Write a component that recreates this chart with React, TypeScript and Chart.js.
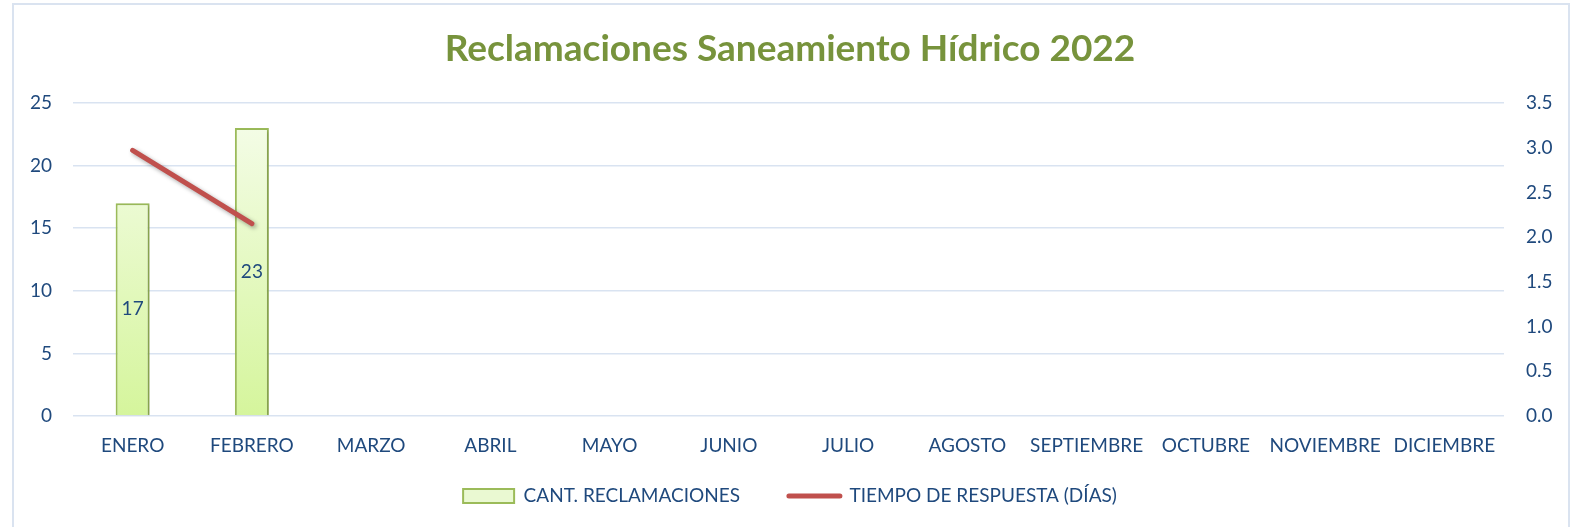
import React, { useEffect, useRef } from 'react';
import { Chart, registerables } from 'chart.js';

Chart.register(...registerables);

const MONTHS = ['ENERO', 'FEBRERO', 'MARZO', 'ABRIL', 'MAYO', 'JUNIO', 'JULIO', 'AGOSTO', 'SEPTIEMBRE', 'OCTUBRE', 'NOVIEMBRE', 'DICIEMBRE'];
const RECLAMACIONES: (number | null)[] = [17, 23, null, null, null, null, null, null, null, null, null, null];
const TIEMPO_RESPUESTA: (number | null)[] = [2.97, 2.15, null, null, null, null, null, null, null, null, null, null];
const TITLE = 'Reclamaciones Saneamiento Hídrico 2022';
const SERIES_BAR = 'CANT. RECLAMACIONES';
const SERIES_LINE = 'TIEMPO DE RESPUESTA (DÍAS)';
const LEFT_MAX = 25;
const LEFT_STEP = 5;
const RIGHT_MAX = 3.5;
const RIGHT_STEP = 0.5;

const TEXT_BLUE = '#1F497D';
const GRID = '#D9E3F1';
const FONT = 'Lato';
const LABEL_SIZE = 19;

const shadowPlugin = {
  id: 'shadowPlugin',
  beforeDatasetDraw(chart: any, args: any) {
    const c = chart.ctx;
    c.save();
    if (args.index === 1) {
      c.shadowColor = 'rgba(0,0,0,0.35)';
      c.shadowBlur = 4;
      c.shadowOffsetX = 2;
      c.shadowOffsetY = 2;
    } else {
      c.shadowColor = 'rgba(0,0,0,0.18)';
      c.shadowBlur = 3;
      c.shadowOffsetX = 2;
      c.shadowOffsetY = 1;
    }
  },
  afterDatasetDraw(chart: any) {
    chart.ctx.restore();
  },
};

const labelPlugin = {
  id: 'barLabels',
  afterDatasetsDraw(chart: any) {
    const c = chart.ctx;
    const meta = chart.getDatasetMeta(0);
    c.save();
    c.fillStyle = TEXT_BLUE;
    c.font = `${LABEL_SIZE}px ${FONT}`;
    c.textAlign = 'center';
    c.textBaseline = 'middle';
    meta.data.forEach((el: any, i: number) => {
      const v = RECLAMACIONES[i];
      if (v == null) return;
      const p = el.getProps(['x', 'y', 'base'], true);
      c.fillText(String(v), p.x, (p.y + p.base) / 2);
    });
    c.restore();
  },
};

export default function App() {
  const canvasRef = useRef<HTMLCanvasElement | null>(null);

  useEffect(() => {
    document.body.style.margin = '0';
    document.body.style.overflow = 'hidden';
    const canvas = canvasRef.current;
    if (!canvas) return;
    const chart = new Chart(canvas, {
      type: 'bar',
      data: {
        labels: MONTHS,
        datasets: [
          {
            type: 'bar',
            label: SERIES_BAR,
            data: RECLAMACIONES,
            yAxisID: 'y',
            order: 2,
            backgroundColor: (ctx: any) => {
              const area = ctx.chart.chartArea;
              if (!area) return '#E6F8C8';
              const g = ctx.chart.ctx.createLinearGradient(0, area.top, 0, area.bottom);
              g.addColorStop(0, '#F6FDEC');
              g.addColorStop(1, '#D5F59C');
              return g;
            },
            borderColor: '#9BBB59',
            borderWidth: 2,
            barPercentage: 0.285,
            categoryPercentage: 1,
          },
          {
            type: 'line',
            label: SERIES_LINE,
            data: TIEMPO_RESPUESTA,
            yAxisID: 'y1',
            order: 1,
            borderColor: '#C0504D',
            backgroundColor: '#C0504D',
            borderWidth: 5,
            borderCapStyle: 'round',
            pointRadius: 0,
            pointHoverRadius: 0,
            tension: 0,
          },
        ],
      } as any,
      options: {
        animation: false,
        responsive: true,
        maintainAspectRatio: false,
        layout: { padding: { top: 4, bottom: 11.5, left: 8, right: 0 } },
        font: { family: FONT },
        plugins: {
          title: {
            display: true,
            text: TITLE,
            color: '#77933C',
            font: { family: FONT, size: 37, weight: 'bold' },
            padding: { top: 22.8, bottom: 31.8 },
          },
          legend: {
            position: 'bottom',
            labels: {
              usePointStyle: true,
              pointStyleWidth: 51,
              boxHeight: 14,
              padding: 29.5,
              color: TEXT_BLUE,
              font: { family: FONT, size: LABEL_SIZE },
              generateLabels: () => [
                {
                  text: SERIES_BAR + '    ',
                  fillStyle: '#EAF9D2',
                  strokeStyle: '#9BBB59',
                  lineWidth: 2,
                  pointStyle: 'rect',
                  datasetIndex: 0,
                  hidden: false,
                  fontColor: TEXT_BLUE,
                },
                {
                  text: SERIES_LINE,
                  fillStyle: '#C0504D',
                  strokeStyle: '#C0504D',
                  lineWidth: 5,
                  lineCap: 'round',
                  pointStyle: 'line',
                  datasetIndex: 1,
                  hidden: false,
                  fontColor: TEXT_BLUE,
                },
              ],
            },
          },
          tooltip: { enabled: false },
        },
        scales: {
          x: {
            grid: { display: false, drawTicks: false },
            border: { display: false },
            ticks: { color: TEXT_BLUE, font: { family: FONT, size: LABEL_SIZE }, padding: 18.2, maxRotation: 0, autoSkip: false },
            afterFit: (s: any) => { s.height = 41; },
          },
          y: {
            position: 'left',
            min: 0,
            max: LEFT_MAX,
            grid: { color: GRID, lineWidth: 1.5, drawTicks: false },
            border: { display: false },
            ticks: { stepSize: LEFT_STEP, color: TEXT_BLUE, font: { family: FONT, size: LABEL_SIZE }, padding: 21 },
            afterFit: (s: any) => { s.width = 65; },
          },
          y1: {
            position: 'right',
            min: 0,
            max: RIGHT_MAX,
            grid: { display: false, drawTicks: false },
            border: { display: false },
            ticks: {
              stepSize: RIGHT_STEP,
              color: TEXT_BLUE,
              font: { family: FONT, size: LABEL_SIZE },
              padding: 22,
              callback: (v: any) => Number(v).toFixed(1),
            },
            afterFit: (s: any) => { s.width = 68; },
          },
        },
      } as any,
      plugins: [shadowPlugin, labelPlugin],
    });
    return () => chart.destroy();
  }, []);

  return (
    <div style={{ position: 'fixed', left: 0, top: 0, width: 1572, height: 527, background: '#fff', overflow: 'hidden' }}>
      <div
        style={{
          position: 'absolute',
          left: 12,
          top: 3,
          width: 1558,
          height: 600,
          border: '2px solid #DAE3F0',
          boxSizing: 'border-box',
        }}
      />
      <div style={{ position: 'absolute', left: 0, top: 0, width: 1572, height: 527 }}>
        <canvas ref={canvasRef} />
      </div>
    </div>
  );
}
